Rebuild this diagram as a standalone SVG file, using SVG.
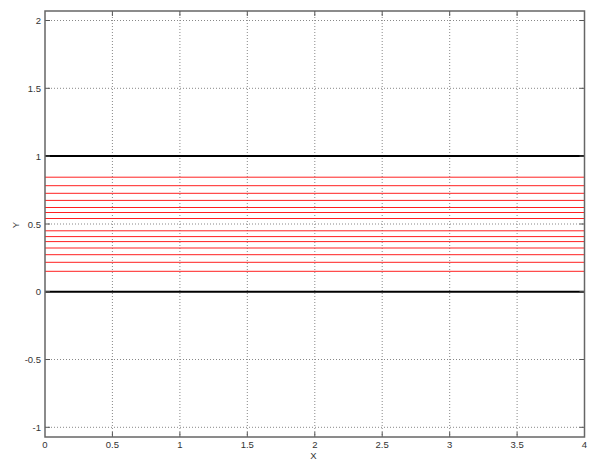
<svg xmlns="http://www.w3.org/2000/svg" width="600" height="469" viewBox="0 0 600 469">
<style>
.grid{stroke:#888;stroke-width:1;stroke-dasharray:1,2;fill:none}
.tick{stroke:#555;stroke-width:1;fill:none}
.frame{stroke:#666;stroke-width:1.5;fill:none}
.red{stroke:#ff2020;stroke-width:1;fill:none}
.bold{stroke:#000;stroke-width:2;fill:none}
text{font-family:"Liberation Sans",Arial,sans-serif;font-size:9.5px;fill:#333}
.yl{text-anchor:end}
.xl{text-anchor:middle}
</style>
<rect x="0" y="0" width="600" height="469" fill="#fff"/>
<g id="grid">
<path class="grid" d="M112.4 11V437M179.9 11V437M247.3 11V437M314.8 11V437M382.2 11V437M449.7 11V437M517.1 11V437"/>
<path class="grid" d="M45 20.5H584.5M45 88.3H584.5M45 224H584.5M45 359.5H584.5M45 427.3H584.5"/>
</g>
<g id="red-lines">
<path class="red" d="M45 177.2H584.5M45 185.7H584.5M45 193.3H584.5M45 200.4H584.5M45 207.5H584.5M45 212.5H584.5M45 218.5H584.5M45 230.8H584.5M45 236.6H584.5M45 241.6H584.5M45 248H584.5M45 254.7H584.5M45 262.3H584.5M45 271.3H584.5"/>
</g>
<g id="boundaries">
<path class="bold" d="M45 156.1H584.5M45 291.7H584.5"/>
</g>
<g id="ticks">
<path class="tick" d="M45 20.5h5M45 88.3h5M45 156.1h5M45 224h5M45 291.7h5M45 359.5h5M45 427.3h5M584.5 20.5h-5M584.5 88.3h-5M584.5 156.1h-5M584.5 224h-5M584.5 291.7h-5M584.5 359.5h-5M584.5 427.3h-5"/>
<path class="tick" d="M112.4 437v-5M179.9 437v-5M247.3 437v-5M314.8 437v-5M382.2 437v-5M449.7 437v-5M517.1 437v-5M112.4 11v5M179.9 11v5M247.3 11v5M314.8 11v5M382.2 11v5M449.7 11v5M517.1 11v5"/>
</g>
<g id="frame">
<rect class="frame" x="45" y="11" width="539.5" height="426"/>
</g>
<g id="y-labels">
<text class="yl" x="41" y="24">2</text>
<text class="yl" x="41" y="91.8">1.5</text>
<text class="yl" x="41" y="159.6">1</text>
<text class="yl" x="41" y="227.5">0.5</text>
<text class="yl" x="41" y="295.2">0</text>
<text class="yl" x="41" y="363">-0.5</text>
<text class="yl" x="41" y="430.8">-1</text>
</g>
<g id="x-labels">
<text class="xl" x="45" y="448">0</text>
<text class="xl" x="112.4" y="448">0.5</text>
<text class="xl" x="179.9" y="448">1</text>
<text class="xl" x="247.3" y="448">1.5</text>
<text class="xl" x="314.8" y="448">2</text>
<text class="xl" x="382.2" y="448">2.5</text>
<text class="xl" x="449.7" y="448">3</text>
<text class="xl" x="517.1" y="448">3.5</text>
<text class="xl" x="584.5" y="448">4</text>
</g>
<g id="axis-titles">
<text class="xl" x="313.5" y="458.5">X</text>
<text class="xl" transform="translate(18.5 225) rotate(-90)">Y</text>
</g>
</svg>
